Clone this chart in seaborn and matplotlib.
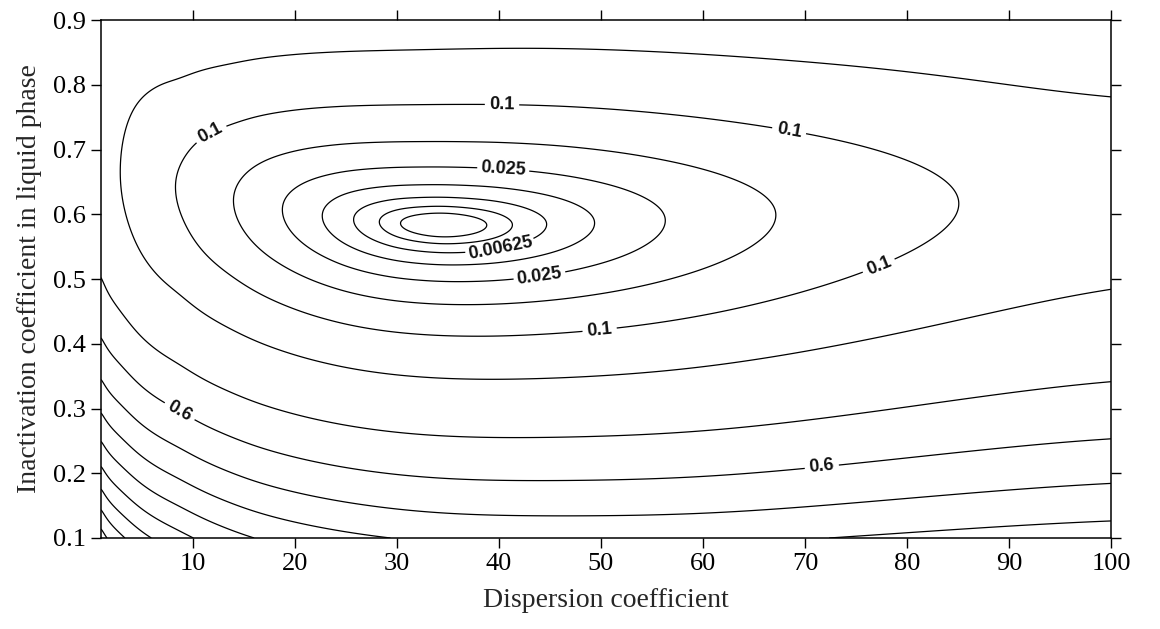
import numpy as np
import matplotlib
matplotlib.use("Agg")
import matplotlib.pyplot as plt
import seaborn as sns

# Lowest value of the objective along the valley, at given dispersion coefficients
valley_x = [1, 3.2, 8.7, 14.3, 19.1, 23.1, 26.1, 28.5, 30.3, 34.5,
            38.9, 41.1, 44.2, 48.7, 55.6, 66.3, 84.2, 100]
valley_min = [0.28, 0.2, 0.1, 0.05, 0.025, 0.0125, 0.00625, 0.003125, 0.0015625, 0.0004,
              0.0015625, 0.003125, 0.00625, 0.0125, 0.025, 0.05, 0.1, 0.15]

# Cross-section profile of the objective across the inactivation coefficient
profile_x = [1, 3.5, 8.7, 16.3, 28.6, 34.5, 50, 60, 79, 89, 100]
valley_y = [0.67, 0.665, 0.642, 0.615, 0.585, 0.58, 0.585, 0.59, 0.605, 0.62, 0.64]
curv_below = [4.22, 3.77, 3.5, 3.2, 3.09, 3.0, 2.85, 2.55, 2.8, 2.93, 2.9]
skew_below = [0.6, 0.6, 0.62, 0.7, 0.77, 0.77, 0.8, 0.95, 0.6, 0.4, 0.3]
curv_above = [2.3, 3.6, 4.2, 3.7, 3.3, 3.2, 3.1, 3.0, 3.0, 3.0, 3.0]
skew_above = -0.6

levels = [0.0015625, 0.003125, 0.00625, 0.0125, 0.025, 0.05, 0.1,
          0.2, 0.4, 0.6, 0.8, 1.0, 1.2, 1.4, 1.6, 1.8, 2.0]
level_text = {0.1: "0.1", 0.025: "0.025", 0.00625: "0.00625", 0.6: "0.6"}
label_spots = {
    0.1: [(12.0, 0.718), (40.3, 0.766), (68.4, 0.725), (77.4, 0.514), (49.9, 0.417)],
    0.025: [(40.4, 0.664), (44.0, 0.502)],
    0.00625: [(40.1, 0.548)],
    0.6: [(8.5, 0.29), (71.7, 0.202)],
}

x_ticks = [10, 20, 30, 40, 50, 60, 70, 80, 90, 100]
y_ticks = [0.1, 0.2, 0.3, 0.4, 0.5, 0.6, 0.7, 0.8, 0.9]

# Profiles along ln(dispersion coefficient), smoothed so the surface has no creases
u = np.linspace(0.0, np.log(100.0), 2000)
du = u[1] - u[0]


def smooth_profile(kx, vals, sigma):
    v = np.interp(u, np.log(kx), vals)
    half = int(4 * sigma / du)
    t = np.arange(-half, half + 1) * du
    w = np.exp(-0.5 * (t / sigma) ** 2)
    w /= w.sum()
    vp = np.pad(v, half, mode="edge")
    return np.convolve(vp, w, mode="valid")


# fine smoothing near the minimum, wider along the flanks, widest at small dispersion
near_min = np.exp(-((u - np.log(34.5)) / 0.3) ** 2)
far_left = 1.0 / (1.0 + np.exp((u - 2.0) / 0.15))
lb_fine = smooth_profile(valley_x, np.log(valley_min), 0.03)
lb_mid = smooth_profile(valley_x, np.log(valley_min), 0.1)
lb_wide = smooth_profile(valley_x, np.log(valley_min), 0.3)
lb_flank = far_left * lb_wide + (1 - far_left) * lb_mid
log_b = near_min * lb_fine + (1 - near_min) * lb_flank
prof_c = smooth_profile(profile_x, valley_y, 0.2)
prof_adn = smooth_profile(profile_x, curv_below, 0.15)
prof_kdn = smooth_profile(profile_x, skew_below, 0.15)
prof_aup = smooth_profile(profile_x, curv_above, 0.3)

xs = np.linspace(1, 100, 900)
ys = np.linspace(0.1, 0.9, 700)
X, Y = np.meshgrid(xs, ys)
lx = np.log(xs)
b = np.exp(np.interp(lx, u, log_b))
c = np.interp(lx, u, prof_c)
a_dn = np.interp(lx, u, prof_adn)
k_dn = np.interp(lx, u, prof_kdn)
a_up = np.interp(lx, u, prof_aup)

d = Y - c[None, :]
dd = np.abs(d)
Z = np.where(d < 0,
             a_dn[None, :] * dd ** 2 * (1 + k_dn[None, :] * dd),
             a_up[None, :] * dd ** 2 * (1 + skew_above * dd)) + b[None, :]

sns.set_style("ticks")
plt.rcParams["font.family"] = ["Liberation Serif", "DejaVu Serif"]

fig = plt.figure(figsize=(11.6, 6.29), dpi=100)
ax = fig.add_axes([0.0871, 0.1447, 0.8707, 0.8233])

line_kw = dict(colors="black", linewidths=0.9)
plain_levels = [v for v in levels if v not in level_text]
ax.contour(X, Y, Z, levels=plain_levels, **line_kw)
for lev, spots in label_spots.items():
    cs = ax.contour(X, Y, Z, levels=[lev], **line_kw)
    texts = ax.clabel(cs, manual=spots, inline=True, inline_spacing=6,
                      fmt=level_text, fontsize=13)
    for t in texts:
        t.set_fontfamily(["Liberation Sans", "DejaVu Sans"])
        t.set_fontweight("bold")
        t.set_color("#111111")

ax.set_xlim(1, 100)
ax.set_ylim(0.1, 0.9)
ax.set_xticks(x_ticks)
ax.set_yticks(y_ticks)
ax.set_yticklabels([f"{v:.1f}" for v in y_ticks])
ax.tick_params(direction="out", length=7, width=1, top=True, right=True,
               labelsize=19, colors="black", pad=4)
for s in ax.spines.values():
    s.set_visible(True)
    s.set_color("black")
    s.set_linewidth(1.1)

ax.set_xlabel("Dispersion coefficient", fontsize=20, labelpad=9)
ax.set_ylabel("Inactivation coefficient in liquid phase", fontsize=20, labelpad=8)

fig.savefig("out.png", dpi=100, facecolor="white")
